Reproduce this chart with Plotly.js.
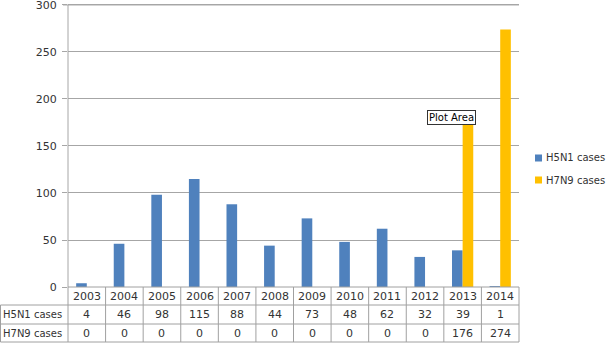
<!DOCTYPE html>
<html>
<head>
<meta charset="utf-8">
<script src="https://cdn.plot.ly/plotly-3.0.1.min.js"></script>
<style>html,body{margin:0;padding:0;background:#fff;}#chart{width:609px;height:343px;}</style>
</head>
<body>
<div id="chart"></div>
<script>
var years = ['2003','2004','2005','2006','2007','2008','2009','2010','2011','2012','2013','2014'];
var seriesNames = ['H5N1 cases', 'H7N9 cases'];
var h5n1 = [4, 46, 98, 115, 88, 44, 73, 48, 62, 32, 39, 1];
var h7n9 = [0, 0, 0, 0, 0, 0, 0, 0, 0, 0, 176, 274];
var colors = ['#4F81BD', '#FFC000'];
var yTicks = [0, 50, 100, 150, 200, 250, 300];

var W = 609, H = 343;
var mL = 68, mR = 90, mT = 0, mB = 56;
var plotH = H - mT - mB; // 287
function py(pix) { return (H - mB - pix) / plotH; }
var plotW = W - mL - mR;
function px(pix) { return (pix - mL) / plotW; }
function cx(i) { return (i + 0.5) / years.length; }

var font = 'DejaVu Sans, Verdana, sans-serif';
var gridC = '#A6A6A6';
var textC = '#333333';

var traces = [
  {type: 'bar', x: years, y: h5n1, name: seriesNames[0], marker: {color: colors[0]}, showlegend: false, hoverinfo: 'none'},
  {type: 'bar', x: years, y: h7n9, name: seriesNames[1], marker: {color: colors[1]}, showlegend: false, hoverinfo: 'none'}
];

var shapes = [];
var annotations = [];
var rowLines = [287, 305, 324, 342];
var rowMid = [296, 314.5, 333];
var lineStyle = {color: '#A0A0A0', width: 1};

var maxTick = yTicks[yTicks.length - 1];
// top gridline and vertical axis line ending at the max tick
shapes.push({type: 'line', xref: 'paper', yref: 'y', x0: -5 / plotW, x1: 1, y0: maxTick, y1: maxTick, line: {color: gridC, width: 1}, layer: 'below'});
shapes.push({type: 'line', xref: 'paper', yref: 'y', x0: 0, x1: 0, y0: 0, y1: maxTick, line: {color: gridC, width: 1}});

for (var r = 1; r < rowLines.length; r++) {
  shapes.push({type: 'line', xref: 'paper', yref: 'paper', x0: px(0.5), x1: 1, y0: py(rowLines[r]), y1: py(rowLines[r]), line: lineStyle});
}
shapes.push({type: 'line', xref: 'paper', yref: 'paper', x0: 0, x1: 1, y0: py(rowLines[0]), y1: py(rowLines[0]), line: lineStyle});
for (var i = 0; i <= years.length; i++) {
  shapes.push({type: 'line', xref: 'paper', yref: 'paper', x0: i / years.length, x1: i / years.length, y0: py(rowLines[0]), y1: py(rowLines[3]), line: lineStyle});
}
shapes.push({type: 'line', xref: 'paper', yref: 'paper', x0: px(0.5), x1: px(0.5), y0: py(rowLines[1]), y1: py(rowLines[3]), line: lineStyle});

var rows = [years, h5n1, h7n9];
for (var r = 0; r < rows.length; r++) {
  for (var i = 0; i < years.length; i++) {
    annotations.push({xref: 'paper', yref: 'paper', x: cx(i), y: py(rowMid[r]), text: String(rows[r][i]), showarrow: false, font: {family: font, size: 11, color: textC}, xanchor: 'center', yanchor: 'middle'});
  }
}
for (var s = 0; s < seriesNames.length; s++) {
  annotations.push({xref: 'paper', yref: 'paper', x: px(1), y: py(rowMid[s + 1]), text: seriesNames[s], showarrow: false, font: {family: font, size: 10, color: textC}, xanchor: 'left', yanchor: 'middle'});
}

var legY = [158, 180];
for (var s = 0; s < seriesNames.length; s++) {
  shapes.push({type: 'rect', xref: 'paper', yref: 'paper', x0: px(535), x1: px(542), y0: py(legY[s] + 3.5), y1: py(legY[s] - 3.5), fillcolor: colors[s], line: {width: 0}});
  annotations.push({xref: 'paper', yref: 'paper', x: px(544), y: py(legY[s]), text: seriesNames[s], showarrow: false, font: {family: font, size: 10, color: textC}, xanchor: 'left', yanchor: 'middle'});
}

annotations.push({xref: 'paper', yref: 'paper', x: px(451), y: py(117), text: 'Plot Area', showarrow: false, font: {family: font, size: 10, color: '#000'}, bgcolor: '#FFFFFF', bordercolor: '#333333', borderwidth: 1, borderpad: 1, xanchor: 'center', yanchor: 'middle'});

var layout = {
  width: W, height: H,
  margin: {l: mL, r: mR, t: mT, b: mB, pad: 0},
  paper_bgcolor: '#FFFFFF', plot_bgcolor: '#FFFFFF',
  barmode: 'group', bargap: 0.434, bargroupgap: 0,
  showlegend: false,
  xaxis: {type: 'category', range: [-0.5, years.length - 0.5], showticklabels: false, showgrid: false, zeroline: false, showline: false, ticks: '', fixedrange: true},
  yaxis: {range: [0, 305.3], tickvals: yTicks, ticktext: yTicks.map(String), ticklabeloverflow: 'allow', ticklabelstandoff: 3, showgrid: true, gridcolor: gridC, gridwidth: 1, zeroline: false, showline: false, ticks: 'outside', ticklen: 5, tickcolor: gridC, tickfont: {family: font, size: 11, color: textC}, fixedrange: true},
  shapes: shapes,
  annotations: annotations,
  font: {family: font}
};

Plotly.newPlot('chart', traces, layout, {displayModeBar: false, staticPlot: true});
</script>
</body>
</html>
